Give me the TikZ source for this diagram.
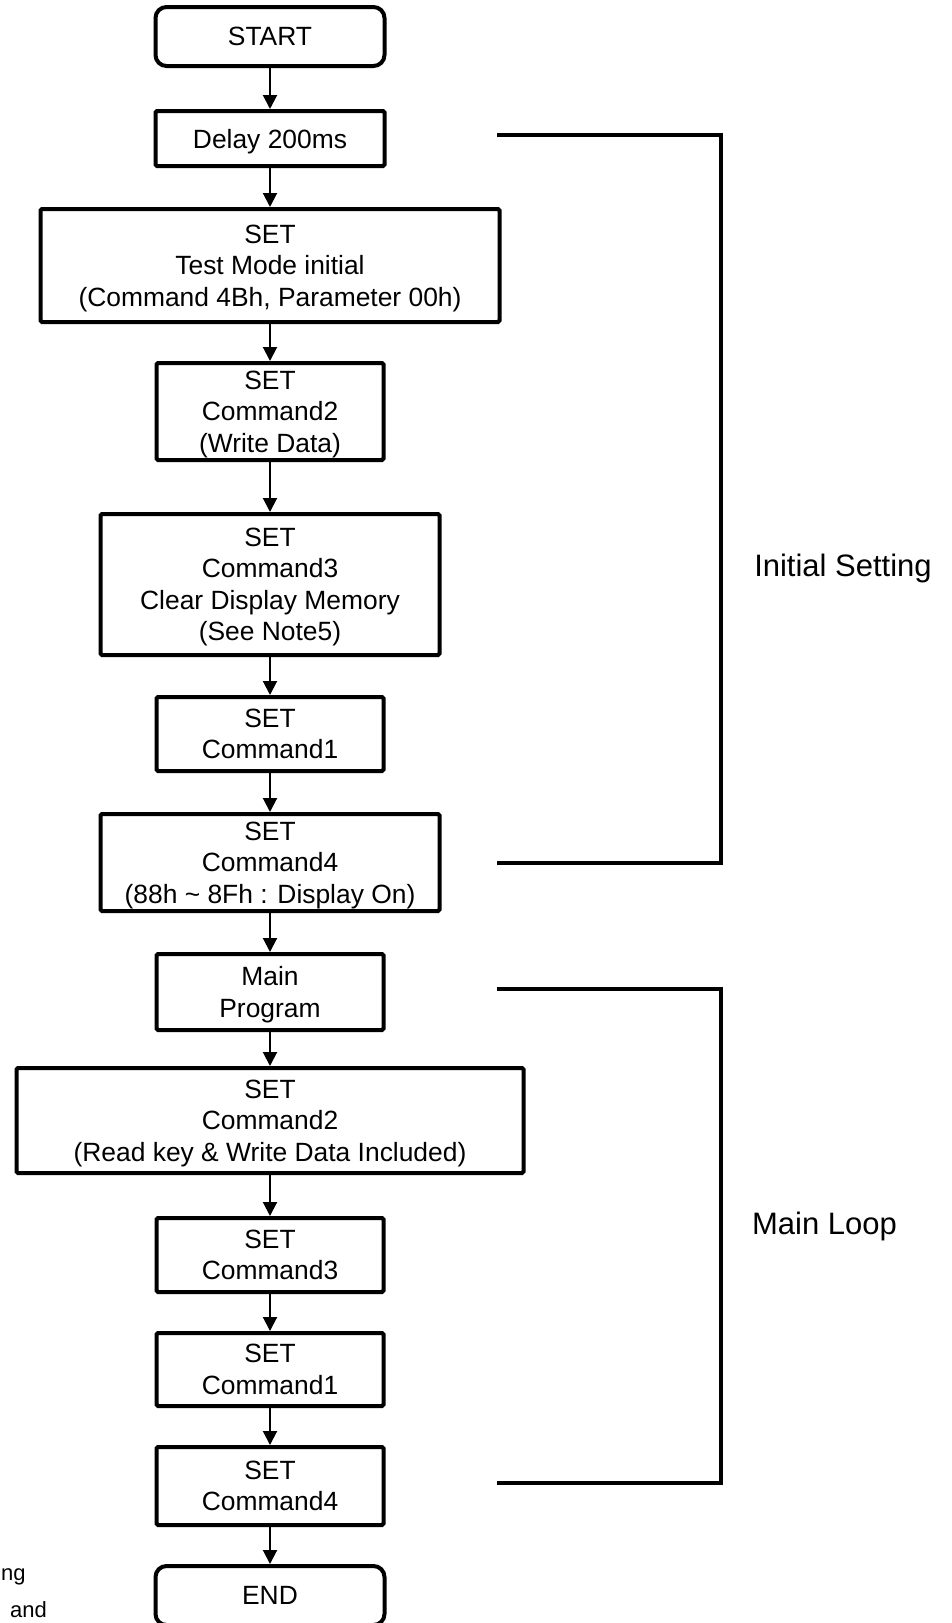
\documentclass[tikz,border=0pt]{standalone}
\usepackage{fontspec}
\setmainfont{Liberation Sans}
\usetikzlibrary{arrows.meta}
\begin{document}
\begin{tikzpicture}[x=1pt,y=-1pt,
  box/.style={draw,line width=4pt,rounded corners=1.5pt,align=center,inner sep=0pt,
    text depth=0pt,font=\fontsize{26.4}{31.5}\selectfont,minimum width=227pt},
  term/.style={box,rounded corners=11pt,minimum width=229pt,minimum height=59pt},
  arr/.style={line width=2pt,-{Triangle[width=14pt,length=14pt]}},
  brace/.style={line width=4pt,line join=miter},
  lbl/.style={font=\fontsize{31}{36}\selectfont,inner sep=0pt},
  frag/.style={font=\fontsize{22}{26}\selectfont,inner sep=0pt}]
\useasboundingbox (0,0) rectangle (951,1623);

% flow of steps
\node[term] (start) at (270,36.5) {START};
\node[box,minimum width=229pt,minimum height=55pt] (delay) at (270,138.5) {Delay 200ms};
\node[box,minimum width=459pt,minimum height=113pt] (test) at (270,265.5)
  {SET\\Test Mode initial\\(Command 4Bh, Parameter 00h)};
\node[box,minimum height=97pt] (wr) at (270,411.5) {SET\\Command2\\(Write Data)};
\node[box,minimum width=339pt,minimum height=141pt] (clr) at (270,584.5)
  {SET\\Command3\\Clear Display Memory\\(See Note5)};
\node[box,minimum height=74pt] (ca) at (270,734) {SET\\Command1};
\node[box,minimum width=339pt,minimum height=97pt] (cb) at (270,862.5)
  {SET\\Command4\\(88h \textasciitilde{} 8Fh : Display On)};
\node[box,minimum height=76pt] (main) at (270,992) {Main\\Program};
\node[box,minimum width=507pt,minimum height=105pt] (rd) at (270,1120.5)
  {SET\\Command2\\(Read key \& Write Data Included)};
\node[box,minimum height=74pt] (c3) at (270,1255) {SET\\Command3};
\node[box,minimum height=73pt] (c1) at (270,1369.5) {SET\\Command1};
\node[box,minimum height=78pt] (c4) at (270,1486) {SET\\Command4};
\node[term] (end) at (270,1595.5) {END};

\draw[arr] (start) -- (delay);
\draw[arr] (delay) -- (test);
\draw[arr] (test) -- (wr);
\draw[arr] (wr) -- (clr);
\draw[arr] (clr) -- (ca);
\draw[arr] (ca) -- (cb);
\draw[arr] (cb) -- (main);
\draw[arr] (main) -- (rd);
\draw[arr] (rd) -- (c3);
\draw[arr] (c3) -- (c1);
\draw[arr] (c1) -- (c4);
\draw[arr] (c4) -- (end);

% grouping brackets
\coordinate (ia) at (497,135);
\coordinate (ib) at (721,135);
\coordinate (ic) at (721,863);
\coordinate (id) at (497,863);
\draw[brace] (ia) -- (ib) -- (ic) -- (id);
\node[lbl] (init) at (843,568) {Initial Setting};

\coordinate (ma) at (497,989);
\coordinate (mb) at (721,989);
\coordinate (mc) at (721,1483);
\coordinate (md) at (497,1483);
\draw[brace] (ma) -- (mb) -- (mc) -- (md);
\node[lbl] (loop) at (824.5,1226) {Main Loop};

% text fragments at the lower left edge
\node[frag,anchor=base west] (fa) at (1,1580) {ng};
\node[frag,anchor=base east] (fb) at (47,1617) {and};
\end{tikzpicture}
\end{document}
